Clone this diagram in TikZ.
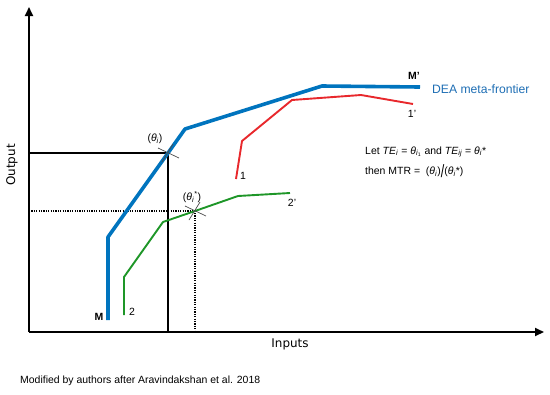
\documentclass[tikz,border=0pt]{standalone}
\usepackage{fontspec}
\setmainfont{Liberation Sans}
\newfontfamily\axisfont{DejaVu Sans}
\usepackage{graphicx}
\usetikzlibrary{arrows.meta}
\definecolor{deablue}{RGB}{0,116,190}
\definecolor{deatext}{RGB}{30,110,180}
\definecolor{redline}{RGB}{232,40,44}
\definecolor{greenline}{RGB}{30,150,40}
\tikzset{
  axis/.style={line width=1.8bp,-{Triangle[length=9bp,width=8bp]}},
  guide/.style={line width=1.2bp,black},
  dotguide/.style={line width=1.2bp,black,dash pattern=on 1.2bp off 1.2bp},
  frontier/.style={line width=3.6bp,deablue,line join=round},
  group1/.style={line width=1.9bp,redline,line join=round},
  group2/.style={line width=1.9bp,greenline,line join=round},
  crossmark/.style={line width=0.7bp,gray!60!black},
  lbl/.style={inner sep=0pt,font=\fontsize{10.5}{12}\selectfont},
  axlbl/.style={inner sep=0pt,font=\axisfont\fontsize{12}{14}\selectfont},
}
\begin{document}
\begin{tikzpicture}[x=1bp,y=-1bp]
\useasboundingbox (0,0) rectangle (550,394);
% axes
\coordinate (O) at (29,332);
\coordinate (ytop) at (29,7);
\coordinate (xend) at (544,332);
\draw[axis] (O) -- (ytop);
\draw[axis] (O) -- (xend);
\node[axlbl,rotate=90] (outlbl) at (12,165) {Output};
\node[axlbl] (inlbl) at (290,344) {Inputs};
% points
\coordinate (A) at (168,153);
\coordinate (B) at (195,211);
\coordinate (Ay) at (29,153);
\coordinate (Ax) at (168,332);
\coordinate (By) at (29,211);
\coordinate (Bx) at (195,332);
% guides
\draw[guide] (Ay) -- (A) -- (Ax);
\draw[dotguide] (By) -- (B) -- (Bx);
% frontier
\draw[frontier] (108,320) -- (108,237) -- (A) -- (185,129) -- (322,86) -- (420,87);
% group 1
\draw[group1] (236,179) -- (242,141) -- (292,100) -- (361,95) -- (413,104);
% group 2
\draw[group2] (124,315) -- (124,277) -- (163,222) -- (B) -- (238,196) -- (290,193);
% cross marks
\foreach \p in {A,B}{
  \draw[crossmark] ([shift={(-10,-5)}]\p) -- ([shift={(11,5)}]\p);
  \draw[crossmark] ([shift={(-6,9)}]\p) -- ([shift={(5,-9)}]\p);
}
% labels
\node[lbl] (thA) at (155,139) {(\textit{θ}\textsubscript{\textit{i}})};
\node[lbl] (thB) at (192,197) {(\textit{θ}\textsubscript{\textit{i}}\textsuperscript{*})};
\node[lbl,font=\bfseries\fontsize{10.5}{12}\selectfont] (Mlbl) at (99,317) {M};
\node[lbl,font=\bfseries\fontsize{10.5}{12}\selectfont] (Mplbl) at (414,76) {M'};
\node[lbl] (l1) at (243,176) {1};
\node[lbl] (l1p) at (412,114) {1'};
\node[lbl] (l2) at (132,312) {2};
\node[lbl] (l2p) at (292,203) {2'};
\node[inner sep=0pt,anchor=west,text=deatext,font=\fontsize{12.2}{14}\selectfont] (dea) at (432,89) {DEA meta-frontier};
\node[lbl,anchor=west] (let) at (365,152) {Let \textit{TE}\textsubscript{\textit{i}} = \textit{θ}\textsubscript{\textit{i}\textsubscript{1}} and \textit{TE}\textsubscript{\textit{ij}} = \textit{θ}\textsubscript{\textit{i}}*};
\node[lbl,anchor=west] (mtr) at (365,171) {then MTR = ~(\textit{θ}\textsubscript{\textit{i}})\raisebox{-0.25em}{\scalebox{1.2}[1.7]{/}}(\textit{θ}\textsubscript{\textit{i}}*)};
\node[lbl,anchor=west] (cap) at (20,381) {Modified by authors after Aravindakshan et al. 2018};
\end{tikzpicture}
\end{document}
